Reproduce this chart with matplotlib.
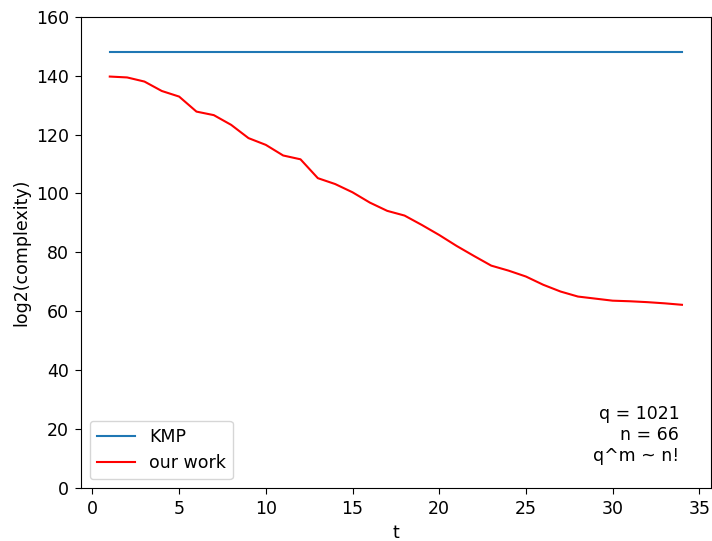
import numpy as np
import matplotlib
matplotlib.use('Agg')
import matplotlib.pyplot as plt

# t values and log2 complexity
t = list(range(1, 35))
kmp = [148.0] * len(t)
our_work = [139.7, 139.4, 138.0, 134.8, 132.9, 127.8, 126.6, 123.3, 118.8, 116.5,
            112.9, 111.6, 105.2, 103.2, 100.4, 96.9, 94.1, 92.5, 89.3, 85.9,
            82.2, 78.8, 75.5, 73.8, 71.8, 69.0, 66.7, 65.0, 64.3, 63.6,
            63.4, 63.1, 62.7, 62.2]

plt.rcParams['font.size'] = 12.5
plt.rcParams['xtick.major.size'] = 4.4
plt.rcParams['ytick.major.size'] = 4.4
plt.rcParams['xtick.major.pad'] = 4.4
plt.rcParams['ytick.major.pad'] = 4.4

fig = plt.figure(figsize=(7.12, 5.41), dpi=100)
ax = fig.add_axes([0.114, 0.098, 0.884, 0.871])

ax.plot(t, kmp, label='KMP')
ax.plot(t, our_work, color='red', label='our work')
ax.set_ylim(0, 160)
ax.set_xlabel('t')
ax.set_ylabel('log2(complexity)')
ax.legend(loc='lower left', handlelength=2.2)
ax.text(33.85, 7.8, 'q = 1021\nn = 66\nq^m ~ n!', ha='right', va='bottom')

plt.savefig('out.png', dpi=100)
